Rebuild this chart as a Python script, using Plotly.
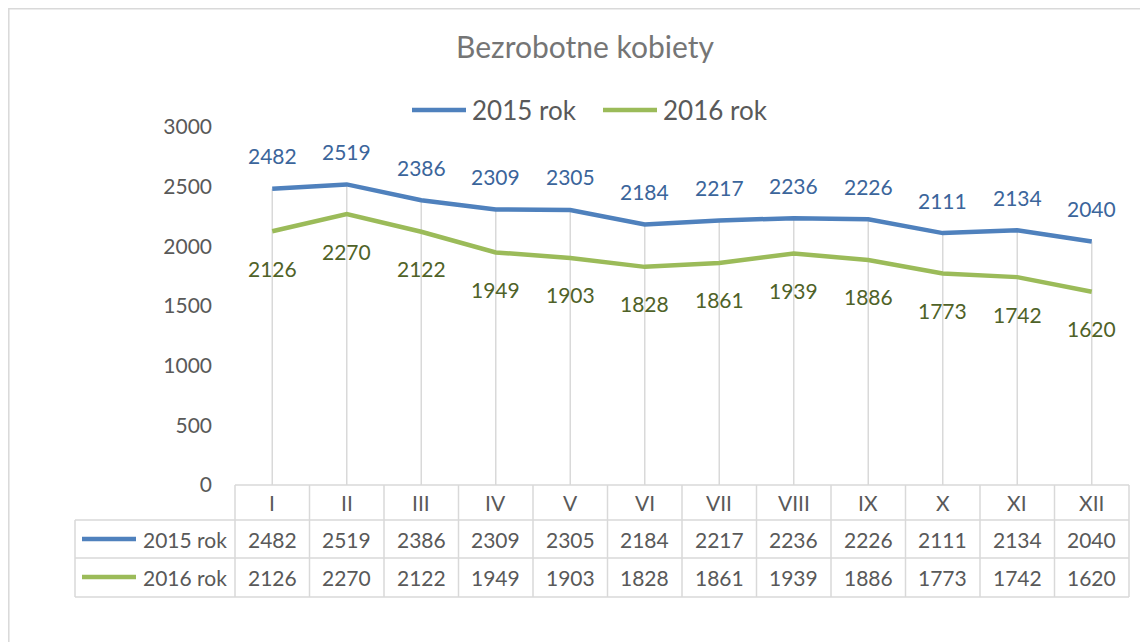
import plotly.graph_objects as go

months = ["I", "II", "III", "IV", "V", "VI", "VII", "VIII", "IX", "X", "XI", "XII"]
rok_2015 = [2482, 2519, 2386, 2309, 2305, 2184, 2217, 2236, 2226, 2111, 2134, 2040]
rok_2016 = [2126, 2270, 2122, 1949, 1903, 1828, 1861, 1939, 1886, 1773, 1742, 1620]
series_names = ["2015 rok", "2016 rok"]

BLUE = "#4f81bd"
GREEN = "#9bbb59"
BLUE_TXT = "#3b659b"
GREEN_TXT = "#4f6228"
GRAY_TXT = "#595959"
GRID = "#d9d9d9"
FONT = "Lato"

# page has an 8px body margin, figure is drawn inside it
OFF = 8
W, H = 1148 - OFF, 642 - OFF
# plot area in screen pixels
L, R, T, B = 235, 1129, 127, 485


def px(x):
    return (x - L) / (R - L)


def py(y):
    return (B - y) / (B - T)


fig = go.Figure()

# drop lines from the highest series to the axis
dx, dy = [], []
for m, a, b in zip(months, rok_2015, rok_2016):
    dx += [m, m, None]
    dy += [0, max(a, b), None]
fig.add_trace(go.Scatter(x=dx, y=dy, mode="lines", line=dict(color=GRID, width=1.5),
                         hoverinfo="skip", showlegend=False))

fig.add_trace(go.Scatter(x=months, y=rok_2015, mode="lines", name=series_names[0],
                         line=dict(color=BLUE, width=4.5), showlegend=False))
fig.add_trace(go.Scatter(x=months, y=rok_2016, mode="lines", name=series_names[1],
                         line=dict(color=GREEN, width=4.5), showlegend=False))

ann = []
shapes = []

# data labels
for m, v in zip(months, rok_2015):
    ann.append(dict(x=m, y=v, xref="x", yref="y", text=str(v), showarrow=False,
                    yshift=33, font=dict(size=21, color=BLUE_TXT)))
for m, v in zip(months, rok_2016):
    ann.append(dict(x=m, y=v, xref="x", yref="y", text=str(v), showarrow=False,
                    yshift=-37, font=dict(size=21, color=GREEN_TXT)))

# data table under the chart
ann += [dict(x=m, y=py(502), xref="x", yref="paper", text=m, showarrow=False,
             yanchor="middle", font=dict(size=21, color=GRAY_TXT)) for m in months]
row_y = [539, 577]
colors = [BLUE, GREEN]
for vals, yy, name, col in zip([rok_2015, rok_2016], row_y, series_names, colors):
    for m, v in zip(months, vals):
        ann.append(dict(x=m, y=py(yy), xref="x", yref="paper", text=str(v), showarrow=False,
                        yanchor="middle", font=dict(size=21, color=GRAY_TXT)))
    ann.append(dict(x=px(229), y=py(yy), xref="paper", yref="paper", text=name,
                    showarrow=False, xanchor="right", yanchor="middle",
                    font=dict(size=21, color=GRAY_TXT)))
    shapes.append(dict(type="line", xref="paper", yref="paper", x0=px(82), x1=px(136),
                       y0=py(yy), y1=py(yy), line=dict(color=col, width=4.5)))

n = len(months)
for i in range(n + 1):
    xx = i / n
    shapes.append(dict(type="line", xref="paper", yref="paper", x0=xx, x1=xx,
                       y0=py(485), y1=py(597), line=dict(color=GRID, width=1.5)))
shapes.append(dict(type="line", xref="paper", yref="paper", x0=px(75), x1=px(75),
                   y0=py(520), y1=py(597), line=dict(color=GRID, width=1.5)))
shapes.append(dict(type="line", xref="paper", yref="paper", x0=0, x1=1,
                   y0=py(485), y1=py(485), line=dict(color=GRID, width=1.5)))
for yy in [520, 558, 597]:
    shapes.append(dict(type="line", xref="paper", yref="paper", x0=px(75), x1=1,
                       y0=py(yy), y1=py(yy), line=dict(color=GRID, width=1.5)))

# legend on top
for x0, name, col in zip([412, 603], series_names, colors):
    shapes.append(dict(type="line", xref="paper", yref="paper", x0=px(x0), x1=px(x0 + 54),
                       y0=py(110), y1=py(110), line=dict(color=col, width=4.5)))
    ann.append(dict(x=px(x0 + 58), y=py(110), xref="paper", yref="paper", text=name,
                    showarrow=False, xanchor="left", yanchor="middle",
                    font=dict(size=26, color=GRAY_TXT)))

# chart border
shapes.append(dict(type="rect", xref="paper", yref="paper", x0=px(8.8), x1=px(1170),
                   y0=py(660), y1=py(8.8), line=dict(color=GRID, width=1.5)))

fig.update_layout(
    width=W, height=H,
    margin=dict(l=L - OFF, r=W - (R - OFF), t=T - OFF, b=H - (B - OFF)),
    paper_bgcolor="white", plot_bgcolor="white",
    font=dict(family=FONT, color=GRAY_TXT),
    title=dict(text="Bezrobotne kobiety", x=(585 - OFF) / W, xanchor="center",
               y=1 - (47 - OFF) / H, yanchor="middle", font=dict(size=30, color="#757575")),
    xaxis=dict(type="category", range=[-0.5, n - 0.5], showticklabels=False,
               showgrid=False, zeroline=False, showline=False, ticks=""),
    yaxis=dict(range=[0, 3000], dtick=500, showgrid=False, zeroline=False, showline=False,
               ticks="", ticklabelstandoff=22, tickfont=dict(size=21, color=GRAY_TXT)),
    annotations=ann,
    shapes=shapes,
    showlegend=False,
)

fig.write_html("out.html")
